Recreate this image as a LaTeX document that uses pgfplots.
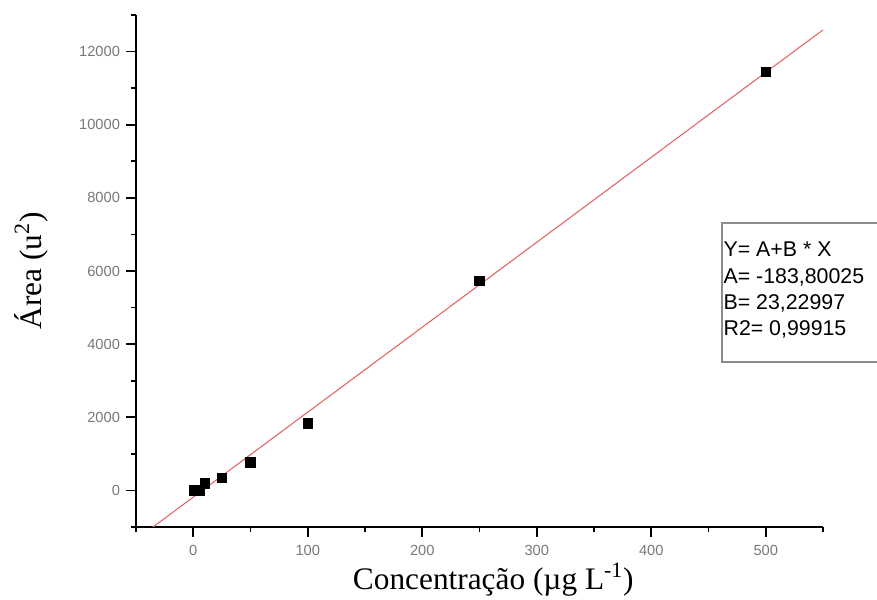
\documentclass[border=0pt]{standalone}
\usepackage{fontspec}
\setmainfont{Liberation Serif}
\newfontfamily\arialf{Liberation Sans}
\usepackage{pgfplots}
\pgfplotsset{compat=1.18}
\definecolor{fitred}{RGB}{228,100,100}
\definecolor{tickgray}{RGB}{120,120,120}
\definecolor{boxgray}{RGB}{140,140,140}
\begin{document}
\begin{tikzpicture}
\begin{axis}[
  at={(0,0)}, anchor=south west,
  scale only axis, width=515.25pt, height=384pt,
  xmin=-50, xmax=550, ymin=-1000, ymax=13000,
  axis x line=bottom, axis y line=left,
  axis line style={-, line width=1.4pt, black},
  xtick={0,100,...,500}, minor xtick={-50,50,...,550},
  ytick={0,2000,...,12000}, minor ytick={-1000,1000,...,13000},
  tick align=outside, major tick length=7.5pt, minor tick length=4pt,
  every tick/.style={black, line width=1.2pt},
  ticklabel style={font=\arialf\fontsize{11}{12}\selectfont, text=tickgray},
  /pgf/number format/assume math mode=true,
  /pgf/number format/set thousands separator={},
  scaled y ticks=false,
  xticklabel style={yshift=-3pt},
  yticklabel style={xshift=-1pt},
  xlabel={Concentração (µg L\textsuperscript{-1})},
  ylabel={Área (u\textsuperscript{2})},
  label style={font=\fontsize{23.5}{26}\selectfont},
  xlabel style={at={(axis description cs:0.52,0)}, anchor=base, yshift=-47pt},
  ylabel style={at={(axis description cs:-0.138,0.5)}, anchor=base, rotate=0},
  clip=true,
]
\addplot[fitred, line width=0.8pt] coordinates {(-50,-1345.3) (550,12592.7)};
\addplot[only marks, mark=square*, mark size=3.6pt, black] coordinates {
  (1,0) (5,10) (10,190) (25,350) (50,770) (100,1830) (250,5730) (500,11450)};
\end{axis}
\draw[boxgray, line width=1.1pt] (439.5pt,123.75pt) rectangle (600pt,228pt);
\begin{scope}[every node/.style={anchor=base west, inner sep=0pt, font=\arialf\fontsize{16}{18}\selectfont}]
\node at (440.5pt,202.7pt) {Y= A+B * X};
\node at (440.5pt,182.7pt) {A= -183,80025};
\node at (440.5pt,162.75pt) {B= 23,22997};
\node at (440.5pt,143.25pt) {R2= 0,99915};
\end{scope}
\pgfresetboundingbox
\path (-102pt,-54pt) rectangle (555.75pt,395.25pt);
\end{tikzpicture}
\end{document}
